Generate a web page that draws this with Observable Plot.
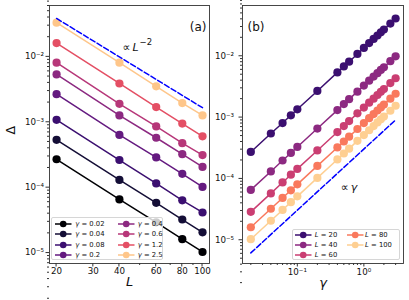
<!DOCTYPE html>
<html><head><meta charset="utf-8">
<script src="https://cdn.jsdelivr.net/npm/d3@7"></script>
<script src="https://cdn.jsdelivr.net/npm/@observablehq/plot@0.6"></script>
<style>
body{margin:0;background:#fff;font-family:"DejaVu Sans",sans-serif;}
#wrap{position:relative;width:409px;height:300px;overflow:hidden;background:#fff;}
.panel{position:absolute;top:0;}
.legend{position:absolute;background:rgba(255,255,255,0.8);border:1px solid #d6d6d6;border-radius:2px;box-sizing:border-box;}
.entry{position:absolute;height:8px;}
.entry svg{position:absolute;left:0;top:0;overflow:visible;}
.entry span{position:absolute;top:-1px;font-size:6.8px;line-height:10px;white-space:nowrap;color:#111;}
</style></head><body><div id="wrap"></div>
<script>
// ---------- panel (a) data ----------
const LA = [20, 40, 60, 80, 100];
const gammaA = [0.02, 0.04, 0.08, 0.2, 0.4, 0.6, 1.2, 2.5];
const dA_002 = [2.67e-4, 6.5e-5, 2.9e-5, 1.6e-5, 1.02e-5];
const dA_004 = [5.3e-4, 1.29e-4, 5.75e-5, 3.2e-5, 2.04e-5];
const dA_008 = [1.07e-3, 2.6e-4, 1.14e-4, 6.3e-5, 4.1e-5];
const dA_02 = [2.64e-3, 6.3e-4, 2.85e-4, 1.6e-4, 1.01e-4];
const dA_04 = [5.3e-3, 1.25e-3, 5.7e-4, 3.2e-4, 2.04e-4];
const dA_06 = [8.0e-3, 1.88e-3, 8.5e-4, 4.7e-4, 3.1e-4];
const dA_12 = [1.6e-2, 3.85e-3, 1.68e-3, 9.4e-4, 6.0e-4];
const dA_25 = [3.28e-2, 8.0e-3, 3.48e-3, 1.93e-3, 1.25e-3];
const refA_L = [20, 100];
const refA_v = [0.038, 0.00164];
const xTicksA = [20, 30, 40, 60, 80, 100];
const xMinorA = [50, 70, 90];

// ---------- panel (b) data ----------
const LB = [20, 40, 60, 80, 100];
const gammaB = [0.02, 0.04, 0.06, 0.08, 0.1, 0.2, 0.4, 0.5, 0.6, 0.8, 1.0, 1.2, 1.4, 1.6, 1.8, 2.0, 2.5, 3.0];
const dB_20 = [2.7e-4, 5.4e-4, 8.0e-4, 1.07e-3, 1.34e-3, 2.67e-3, 5.35e-3, 6.7e-3, 8.0e-3, 1.07e-2, 1.34e-2, 1.61e-2, 1.88e-2, 2.14e-2, 2.41e-2, 2.68e-2, 3.35e-2, 4.05e-2];
const dB_40 = [6.5e-5, 1.3e-4, 1.96e-4, 2.6e-4, 3.26e-4, 6.5e-4, 1.3e-3, 1.63e-3, 1.96e-3, 2.6e-3, 3.26e-3, 3.92e-3, 4.57e-3, 5.2e-3, 5.87e-3, 6.5e-3, 8.15e-3, 9.8e-3];
const dB_60 = [2.85e-5, 5.7e-5, 8.6e-5, 1.15e-4, 1.43e-4, 2.86e-4, 5.7e-4, 7.15e-4, 8.6e-4, 1.15e-3, 1.43e-3, 1.72e-3, 2.0e-3, 2.29e-3, 2.58e-3, 2.86e-3, 3.58e-3, 4.3e-3];
const dB_80 = [1.6e-5, 3.2e-5, 4.8e-5, 6.4e-5, 8.0e-5, 1.6e-4, 3.2e-4, 4.0e-4, 4.8e-4, 6.4e-4, 8.0e-4, 9.6e-4, 1.12e-3, 1.28e-3, 1.44e-3, 1.6e-3, 2.0e-3, 2.4e-3];
const dB_100 = [1.02e-5, 2.04e-5, 3.06e-5, 4.1e-5, 5.1e-5, 1.02e-4, 2.04e-4, 2.55e-4, 3.06e-4, 4.1e-4, 5.1e-4, 6.1e-4, 7.15e-4, 8.2e-4, 9.2e-4, 1.02e-3, 1.27e-3, 1.53e-3];
const refB_g = [0.02, 3.0];
const refB_v = [6.1e-6, 9.0e-4];
const xTicksB = [0.1, 1];
const xMinorB = [0.02,0.03,0.04,0.05,0.06,0.07,0.08,0.09,0.2,0.3,0.4,0.5,0.6,0.7,0.8,0.9,2,3];

const yTicks = [1e-5, 1e-4, 1e-3, 1e-2];
const yMinor = [];
[1e-6,1e-5,1e-4,1e-3,1e-2].forEach(b => [2,3,4,5,6,7,8,9].forEach(m => yMinor.push(b*m)));

// ---------- helpers ----------
const SUP = {"-":"\u207B","0":"\u2070","1":"\u00B9","2":"\u00B2","3":"\u00B3","4":"\u2074","5":"\u2075","6":"\u2076"};
const pow10 = d => "10" + String(Math.round(Math.log10(d))).split("").map(c => SUP[c]).join("");
const AX = "#333";

const seriesA = [dA_002, dA_004, dA_008, dA_02, dA_04, dA_06, dA_12, dA_25];
const magmaPosA = [0.0, 0.1, 0.2, 0.3, 0.4, 0.5, 0.62, 0.88];
const colorsA = magmaPosA.map(t => d3.interpolateMagma(t));
const seriesB = [dB_20, dB_40, dB_60, dB_80, dB_100];
const magmaPosB = [0.2, 0.4, 0.55, 0.72, 0.9];
const colorsB = magmaPosB.map(t => d3.interpolateMagma(t));

const wrap = document.getElementById("wrap");

// ---------- panel (a) ----------
const marksA = [];
seriesA.forEach((s, i) => {
  const rows = LA.map((L, j) => ({L, v: s[j]}));
  marksA.push(Plot.line(rows, {x: "L", y: "v", stroke: colorsA[i], strokeWidth: 1.5}));
  marksA.push(Plot.dot(rows, {x: "L", y: "v", r: 4.1, fill: colorsA[i]}));
});
const refA = refA_L.map((L, j) => ({L, v: refA_v[j]}));
const plotA = Plot.plot({
  width: 215, height: 300, marginLeft: 49, marginRight: 6, marginTop: 5, marginBottom: 37,
  style: {fontFamily: "DejaVu Sans", fontSize: "8.7px", background: "transparent", color: "#111"},
  x: {type: "log", domain: [18.5, 108]},
  y: {type: "log", domain: [6.8e-6, 0.06]},
  marks: [
    Plot.axisY({ticks: yMinor, tickSize: 2, tickFormat: () => "", label: null, stroke: AX}),
    Plot.axisY({ticks: yTicks, tickSize: 3.5, tickPadding: 2, tickFormat: pow10, label: null, stroke: AX}),
    Plot.axisX({ticks: xMinorA, tickSize: 2, tickFormat: () => "", label: null, stroke: AX}),
    Plot.tickX(xTicksA, {x: d => d, y1: () => 6.8e-6, dy: 0, stroke: AX, insetTop: 0}),
    Plot.ruleX(xTicksA, {x: d => d, frameAnchor: "bottom", y1: 0, y2: 3.5, stroke: AX}),
    Plot.text(xTicksA, {x: d => d, text: d => String(d), frameAnchor: "bottom", dy: 10, fontSize: 8.7}),
    ...marksA,
    Plot.line(refA, {x: "L", y: "v", stroke: "#0000ff", strokeWidth: 1.5, strokeDasharray: "5.5,2.4"}),
    Plot.text([0], {x: () => 41.4, y: () => 0.0139, text: () => "\u221D", textAnchor: "start", fontSize: 11}),
    Plot.text([0], {x: () => 41.4, y: () => 0.0139, text: () => "L", dx: 10, textAnchor: "start", fontSize: 11, fontStyle: "italic"}),
    Plot.text([0], {x: () => 41.4, y: () => 0.0139, text: () => "\u22122", dx: 17, dy: -5, textAnchor: "start", fontSize: 8.5}),
    Plot.text(["(a)"], {frameAnchor: "top-right", text: d => d, dx: -3, dy: 17, fontSize: 12}),
    Plot.text(["L"], {frameAnchor: "bottom", text: d => d, dy: 22, fontSize: 13, fontStyle: "italic"}),
    Plot.text(["\u0394"], {frameAnchor: "left", text: d => d, dx: -39, rotate: -90, fontSize: 12.5}),
    Plot.frame({stroke: AX, strokeWidth: 0.9})
  ]
});
plotA.classList.add("panel");
plotA.style.left = "0px";
wrap.appendChild(plotA);
// bottom x tick marks for panel (a), drawn in scale coordinates
{
  const sx = plotA.scale("x");
  const svg = d3.select(plotA);
  svg.selectAll("g[aria-label='tick'], g[aria-label='rule']").remove();
  const g = svg.append("g").attr("stroke", AX);
  xTicksA.forEach(t => g.append("line").attr("x1", sx.apply(t)).attr("x2", sx.apply(t)).attr("y1", 263).attr("y2", 266.5));
}

// ---------- panel (b) ----------
const marksB = [];
seriesB.forEach((s, i) => {
  const rows = gammaB.map((g, j) => ({g, v: s[j]}));
  marksB.push(Plot.line(rows, {x: "g", y: "v", stroke: colorsB[i], strokeWidth: 1.5}));
  marksB.push(Plot.dot(rows, {x: "g", y: "v", r: 4.1, fill: colorsB[i]}));
});
const refB = refB_g.map((g, j) => ({g, v: refB_v[j]}));
const plotB = Plot.plot({
  width: 194, height: 300, marginLeft: 27, marginRight: 6, marginTop: 5, marginBottom: 37,
  style: {fontFamily: "DejaVu Sans", fontSize: "8.7px", background: "transparent", color: "#111", overflow: "visible"},
  x: {type: "log", domain: [0.015, 3.94]},
  y: {type: "log", domain: [4.1e-6, 0.066]},
  marks: [
    Plot.axisY({ticks: yMinor, tickSize: 2, tickFormat: () => "", label: null, stroke: AX}),
    Plot.axisY({ticks: yTicks, tickSize: 3.5, tickPadding: 5, tickFormat: pow10, label: null, stroke: AX}),
    Plot.axisX({ticks: xMinorB, tickSize: 2, tickFormat: () => "", label: null, stroke: AX}),
    Plot.axisX({ticks: xTicksB, tickSize: 3.5, tickPadding: 2, tickFormat: pow10, label: null, stroke: AX}),
    ...marksB,
    Plot.line(refB, {x: "g", y: "v", stroke: "#0000ff", strokeWidth: 1.5, strokeDasharray: "5.5,2.4"}),
    Plot.text([0], {x: () => 0.448, y: () => 7e-5, text: () => "\u221D", textAnchor: "start", fontSize: 11}),
    Plot.text([0], {x: () => 0.448, y: () => 7e-5, text: () => "\u03B3", dx: 10, textAnchor: "start", fontSize: 11, fontStyle: "italic"}),
    Plot.text(["(b)"], {frameAnchor: "top-left", text: d => d, dx: 5, dy: 17, fontSize: 12, textAnchor: "start"}),
    Plot.text(["\u03B3"], {frameAnchor: "bottom", text: d => d, dy: 23, fontSize: 13, fontStyle: "italic"}),
    Plot.frame({stroke: AX, strokeWidth: 0.9})
  ]
});
plotB.classList.add("panel");
plotB.style.left = "215px";
wrap.appendChild(plotB);

// ---------- legends ----------
function makeLegend(box, items, cols, rows) {
  const lg = document.createElement("div");
  lg.className = "legend";
  Object.assign(lg.style, {left: box.left + "px", top: box.top + "px", width: box.w + "px", height: box.h + "px"});
  items.forEach((it, k) => {
    const c = Math.floor(k / rows.length), r = k % rows.length;
    const e = document.createElement("div");
    e.className = "entry";
    e.style.left = cols[c].x + "px";
    e.style.top = (rows[r] - 4) + "px";
    e.innerHTML = `<svg width="17" height="8"><line x1="0" y1="4" x2="16.5" y2="4" stroke="${it.color}" stroke-width="1.5"/><circle cx="8.2" cy="4" r="3.3" fill="${it.color}"/></svg><span style="left:${cols[c].t}px">${it.label}</span>`;
    lg.appendChild(e);
  });
  wrap.appendChild(lg);
}
makeLegend({left: 51, top: 217, w: 112, h: 43},
  gammaA.map((g, i) => ({color: colorsA[i], label: `<i>\u03B3</i> = ${g}`})),
  [{x: 3, t: 20.3}, {x: 65.5, t: 20.2}], [5.8, 16.1, 26.5, 36.8]);
makeLegend({left: 291.5, top: 228.5, w: 108, h: 31},
  LB.map((L, i) => ({color: colorsB[i], label: `<i>L</i> = ${L}`})),
  [{x: 2.5, t: 19.8}, {x: 54.3, t: 18.3}], [5.6, 15.6, 25]);
</script></body></html>
